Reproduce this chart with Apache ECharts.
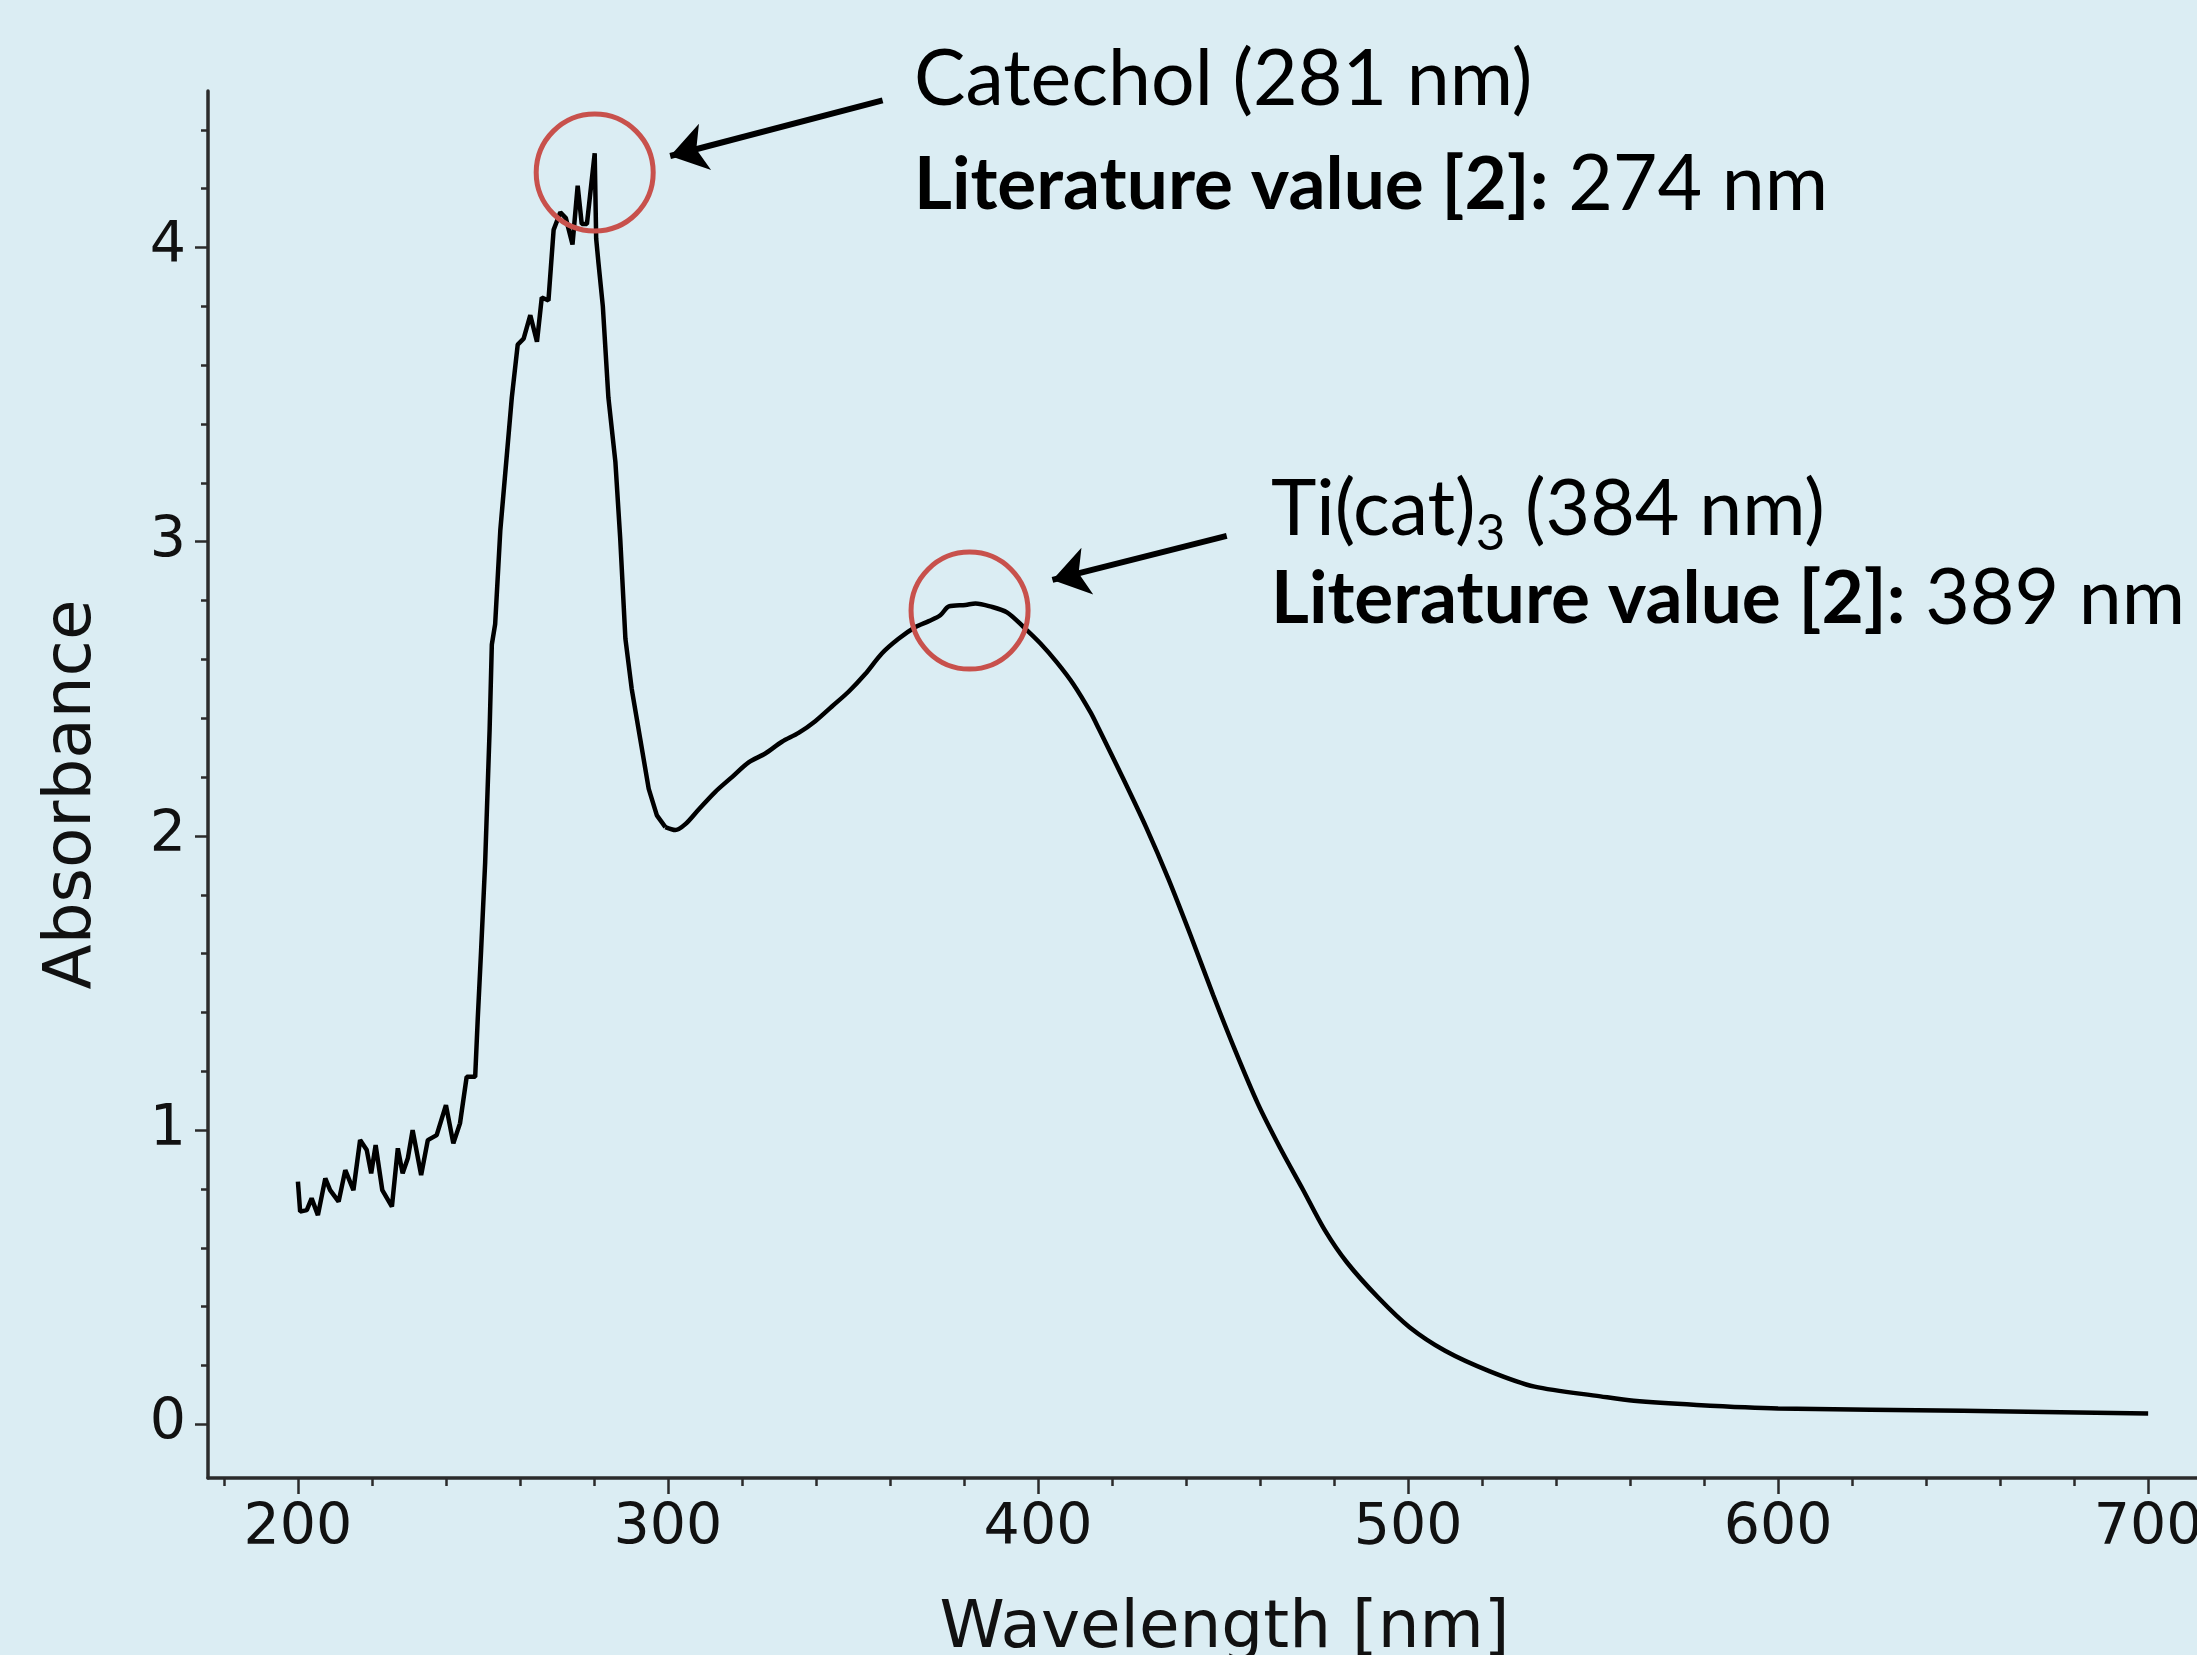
<!DOCTYPE html>
<html>
<head>
<meta charset="utf-8">
<script src="https://cdn.jsdelivr.net/npm/echarts@6/dist/echarts.min.js"></script>
<style>
  html, body { margin: 0; padding: 0; background: #dbedf3; }
  #chart { width: 2197px; height: 1655px; }
</style>
</head>
<body>
<div id="chart"></div>
<script>
// UV-Vis spectrum
var wavelength = [
  200, 200.6, 202.4, 203.7, 205.4, 207.4, 208.7, 211, 212.8, 215,
  216.8, 218.6, 219.8, 221, 222.8, 225.4, 227, 228.3, 229.7, 231,
  233.3, 235.1, 237.5, 240, 242, 243.8, 245.6, 247.9, 248.6, 249.5,
  250.6, 251.8, 252.4, 253.3, 254.7, 257.8, 259.4, 261, 262.8, 264.6,
  265.9, 267.7, 269.1, 270.9, 272.4, 274.2, 275.6, 276.7, 278.1, 280.2,
  280.6, 281.2, 282.4, 283.9, 285.8, 287.1, 288.5, 290.2, 292.5, 294.8,
  297, 299.3, 302, 304.7, 308.3, 312.8, 317.3, 321.8, 326.3, 330.8,
  335.3, 339.8, 344.3, 348.8, 353.3, 357.8, 362.3, 366.9, 370.5, 373.6,
  375.9, 380.4, 383.1, 387.1, 391.6, 396.1, 400.6, 405.1, 409.6, 414.2,
  416.4, 423.2, 429.2, 435.2, 441.3, 447.3, 453.3, 459.4, 465.4, 471.5,
  477.5, 483.5, 492, 500.4, 510, 522.1, 534.2, 552, 561, 578,
  600, 650, 700
];
var absorbance = [
  0.825, 0.723, 0.728, 0.768, 0.711, 0.836, 0.796, 0.757, 0.864, 0.796,
  0.966, 0.932, 0.853, 0.949, 0.796, 0.740, 0.938, 0.853, 0.904, 1.0,
  0.847, 0.966, 0.983, 1.085, 0.955, 1.023, 1.181, 1.181, 1.38, 1.61,
  1.91, 2.36, 2.65, 2.72, 3.04, 3.49, 3.67, 3.69, 3.77, 3.68,
  3.83, 3.82, 4.06, 4.12, 4.10, 4.01, 4.21, 4.08, 4.08, 4.32,
  4.03, 3.95, 3.80, 3.49, 3.27, 3.01, 2.67, 2.50, 2.33, 2.16,
  2.07, 2.03, 2.02, 2.04, 2.09, 2.15, 2.20, 2.25, 2.28, 2.32,
  2.35, 2.39, 2.44, 2.49, 2.55, 2.62, 2.67, 2.71, 2.73, 2.75,
  2.78, 2.785, 2.79, 2.78, 2.76, 2.71, 2.655, 2.59, 2.515, 2.42,
  2.365, 2.19, 2.03, 1.855, 1.66, 1.46, 1.27, 1.09, 0.94, 0.80,
  0.66, 0.55, 0.43, 0.33, 0.25, 0.18, 0.128, 0.095, 0.08, 0.066,
  0.054, 0.046, 0.037
];
// past the first dip the spectrum is smooth
var smoothFrom = 299.3;

var xMajorTicks = [200, 300, 400, 500, 600, 700];
var xMinorTicks = [180, 220, 240, 260, 280, 320, 340, 360, 380, 420, 440, 460, 480,
                   520, 540, 560, 580, 620, 640, 660, 680];
var yMajorTicks = [0, 1, 2, 3, 4];
var yMinorTicks = [0.2, 0.4, 0.6, 0.8, 1.2, 1.4, 1.6, 1.8, 2.2, 2.4, 2.6, 2.8,
                   3.2, 3.4, 3.6, 3.8, 4.2, 4.4];

// highlighted peaks (circle centres) and the arrows pointing at them
var circleCenters = [[280.2, 4.255], [381.5, 2.766]];
var arrowTails = [[358.0, 4.50], [451.0, 3.02]];
var arrowTips = [[300.6, 4.311], [403.9, 2.870]];

// the plotted frame is cut off at the right edge of the picture
var xMin = 175.7, xMax = 713.2;
var yMin = -0.1825, yMax = 4.532;

var axisColor = '#2b2b2b';
var textColor = '#111111';
var annFont = 'Lato, "Open Sans", sans-serif';

var chart = echarts.init(document.getElementById('chart'));

var allPoints = wavelength.map(function (w, i) { return [w, absorbance[i]]; });
var noisyPart = allPoints.filter(function (p) { return p[0] <= smoothFrom; });
var smoothPart = allPoints.filter(function (p) { return p[0] >= smoothFrom; });

var arrowData = arrowTails.map(function (t, i) {
  return [{ coord: t, symbol: 'none' }, { coord: arrowTips[i], symbol: 'arrow', symbolSize: 36 }];
});

var lineStyle = { color: '#000000', width: 4.5 };

var option = {
  backgroundColor: '#dbedf3',
  animation: false,
  grid: { left: 208, top: 91, right: 0, bottom: 177, outerBoundsMode: 'none' },
  xAxis: [{
    type: 'value', min: xMin, max: xMax, position: 'bottom',
    axisLine: { show: true, onZero: false, lineStyle: { color: axisColor, width: 3.5 } },
    axisTick: { show: true, customValues: xMajorTicks, length: 16, lineStyle: { color: axisColor, width: 2.5 } },
    axisLabel: { customValues: xMajorTicks, fontSize: 57, fontFamily: 'DejaVu Sans', color: textColor, margin: 23 },
    splitLine: { show: false },
    name: 'Wavelength [nm]', nameLocation: 'middle', nameGap: 119,
    nameTextStyle: { fontSize: 66, fontFamily: 'DejaVu Sans', color: textColor, padding: [0, 0, 0, 44] }
  }, {
    type: 'value', min: xMin, max: xMax, position: 'bottom',
    axisLine: { show: false, onZero: false },
    axisTick: { show: true, customValues: xMinorTicks, length: 8, lineStyle: { color: axisColor, width: 2.5 } },
    axisLabel: { show: false },
    splitLine: { show: false }
  }],
  yAxis: [{
    type: 'value', min: yMin, max: yMax, position: 'left',
    axisLine: { show: true, onZero: false, lineStyle: { color: axisColor, width: 3.5 } },
    axisTick: { show: true, customValues: yMajorTicks, length: 13, lineStyle: { color: axisColor, width: 2.5 } },
    axisLabel: { customValues: yMajorTicks, fontSize: 57, fontFamily: 'DejaVu Sans', color: textColor, margin: 22 },
    splitLine: { show: false },
    name: 'Absorbance', nameLocation: 'middle', nameRotate: 90, nameGap: 102,
    nameTextStyle: { fontSize: 66, fontFamily: 'DejaVu Sans', color: textColor, padding: [0, 20, 0, 0] }
  }, {
    type: 'value', min: yMin, max: yMax, position: 'left',
    axisLine: { show: false, onZero: false },
    axisTick: { show: true, customValues: yMinorTicks, length: 7, lineStyle: { color: axisColor, width: 2.5 } },
    axisLabel: { show: false },
    splitLine: { show: false }
  }],
  series: [{
    type: 'line',
    data: noisyPart,
    symbol: 'none',
    lineStyle: lineStyle,
    silent: true,
    markPoint: {
      silent: true,
      symbol: 'circle',
      symbolSize: 117,
      itemStyle: { color: 'rgba(0,0,0,0)', borderColor: '#c8514c', borderWidth: 5 },
      label: { show: false },
      data: circleCenters.map(function (c) { return { coord: c }; })
    },
    markLine: {
      silent: true,
      symbol: ['none', 'arrow'],
      symbolSize: 36,
      lineStyle: { color: '#000000', width: 6, type: 'solid' },
      itemStyle: { color: '#000000' },
      label: { show: false },
      data: arrowData
    }
  }, {
    type: 'line',
    data: smoothPart,
    symbol: 'none',
    smooth: 0.3,
    lineStyle: lineStyle,
    silent: true
  }],
  graphic: [{
    type: 'text', x: 914, y: 80,
    style: { text: 'Catechol (281 nm)', font: '77px ' + annFont, fill: '#000', verticalAlign: 'middle' }
  }, {
    type: 'text', x: 914, y: 185,
    style: {
      text: '{b|Literature value [2]:}{n| 274 nm}', verticalAlign: 'middle', fill: '#000',
      rich: {
        b: { fontSize: 73, fontWeight: 'bold', fontFamily: annFont, fill: '#000' },
        n: { fontSize: 77, fontFamily: annFont, fill: '#000' }
      }
    }
  }, {
    type: 'text', x: 1271, y: 510,
    style: {
      text: '{n|Ti(cat)}{s|3}{n| (384 nm)}', verticalAlign: 'middle', fill: '#000',
      rich: {
        n: { fontSize: 77, fontFamily: annFont, fill: '#000', lineHeight: 98 },
        s: { fontSize: 51, fontFamily: annFont, fill: '#000', lineHeight: 51, verticalAlign: 'bottom' }
      }
    }
  }, {
    type: 'text', x: 1271, y: 599,
    style: {
      text: '{b|Literature value [2]:}{n| 389 nm}', verticalAlign: 'middle', fill: '#000',
      rich: {
        b: { fontSize: 73, fontWeight: 'bold', fontFamily: annFont, fill: '#000' },
        n: { fontSize: 77, fontFamily: annFont, fill: '#000' }
      }
    }
  }]
};

chart.setOption(option);
</script>
</body>
</html>
